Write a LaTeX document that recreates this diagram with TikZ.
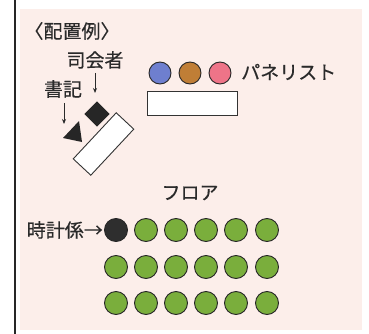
\documentclass[tikz,border=0pt]{standalone}
\usepackage{fontspec}
\setmainfont{Noto Sans CJK JP}[BoldFont={Noto Sans CJK JP}, BoldFeatures={FakeBold=0.4}]
\usetikzlibrary{arrows.meta}
\definecolor{bgpink}{HTML}{FCEEEA}
\definecolor{pblue}{HTML}{6E7FCF}
\definecolor{pbrown}{HTML}{C07E36}
\definecolor{ppink}{HTML}{EE7488}
\definecolor{fgreen}{HTML}{7AAE3C}
\definecolor{txt}{HTML}{2A2A2A}
\tikzset{
  lbl/.style={font=\fontsize{19}{19}\selectfont\bfseries, text=txt, inner sep=0pt},
  seat/.style={circle, draw=black!85, line width=0.9pt, minimum width=21pt, minimum height=23pt, inner sep=0pt},
  panel/.style={circle, draw=black!85, line width=0.9pt, minimum size=22pt, inner sep=0pt},
  table/.style={draw=black!80, line width=0.9pt, fill=white, inner sep=0pt},
  ptr/.style={-{Stealth[length=5pt,width=4pt]}, line width=0.9pt, draw=txt}
}
\begin{document}
\begin{tikzpicture}[x=1pt,y=-1pt]
\useasboundingbox (0,0) rectangle (369,334);
\fill[white] (0,0) rectangle (369,334);
\fill[bgpink] (20,9) rectangle (362,330);
\draw[line width=1.3pt, black!85] (15,0) -- (15,334);

% heading
\node[lbl] (title) at (72,31) {〈配置例〉};

% moderator and recorder
\node[lbl] (shikai) at (95,60) {司会者};
\coordinate (shikaiend) at (95,93);
\draw[ptr] (shikai.south) ++(0,4) -- (shikaiend);
\node[draw=none, fill=black!85, rotate=45, minimum size=18pt, inner sep=0pt] (mod) at (97,114) {};

\node[lbl] (shoki) at (63,89) {書記};
\coordinate (shokiend) at (64,124);
\draw[ptr] (shoki.south) ++(1,5) -- (shokiend);
\fill[black!85] (63,138) -- (79,121) -- (82,142) -- cycle;

\node[table, rotate=47, minimum width=63pt, minimum height=24pt] (deskA) at (103.5,144) {};

% panelists
\node[panel, fill=pblue] (p1) at (160,73) {};
\node[panel, fill=pbrown] (p2) at (190,73) {};
\node[panel, fill=ppink] (p3) at (220,73) {};
\node[lbl, anchor=west] (panelist) at (241,72) {パネリスト};
\node[table, minimum width=90pt, minimum height=24pt] (deskB) at (192,103) {};

% floor
\node[lbl] (floor) at (190,193) {フロア};
\node[lbl, anchor=east] (timer) at (103,230) {時計係→};
\node[seat, fill=black!82] (t) at (116,230) {};
\foreach \i/\x in {2/146,3/176,4/206,5/236,6/267}{
  \node[seat, fill=fgreen] (r1c\i) at (\x,230) {};
}
\foreach \r/\y in {2/267,3/303}{
  \foreach \i/\x in {1/116,2/146,3/176,4/206,5/236,6/267}{
    \node[seat, fill=fgreen] (r\r c\i) at (\x,\y) {};
  }
}
\end{tikzpicture}
\end{document}
